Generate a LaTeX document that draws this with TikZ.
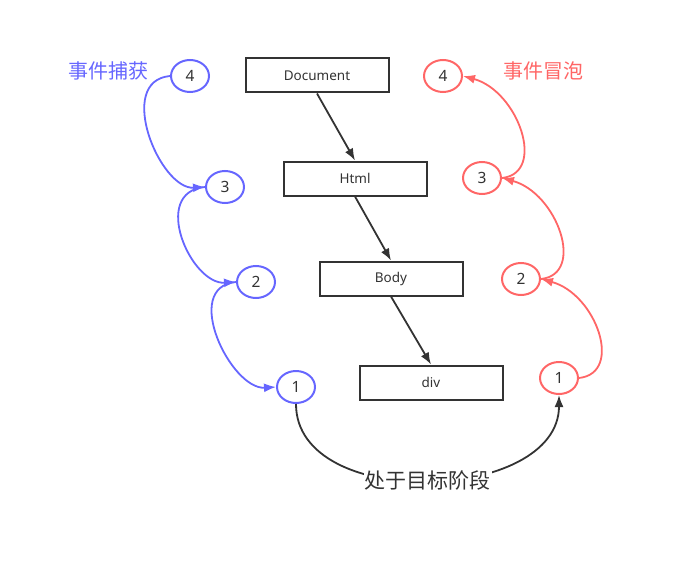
\documentclass[tikz,border=0pt]{standalone}
\usepackage{fontspec}
\setmainfont{Noto Sans}
\newfontfamily\cjk{Noto Sans CJK SC}
\usetikzlibrary{shapes.geometric,arrows.meta}
\definecolor{capblue}{HTML}{6666FF}
\definecolor{bubred}{HTML}{FF6666}
\definecolor{dark}{HTML}{333333}

\begin{document}
\begin{tikzpicture}[x=1pt, y=-1pt,
  box/.style={draw=dark, line width=2pt, minimum width=143pt, minimum height=34pt,
    text=dark, font=\fontsize{13.5}{15}\selectfont},
  num/.style={ellipse, line width=2pt, minimum width=38pt, minimum height=32pt,
    inner sep=0pt, text=dark, font=\fontsize{15.5}{17}\selectfont},
  bcirc/.style={num, draw=capblue},
  rcirc/.style={num, draw=bubred},
  tip/.style={-{Latex[length=12pt,width=9pt]}},
  link/.style={tip, draw=dark, line width=1.8pt},
  bline/.style={tip, draw=capblue, line width=1.8pt},
  rline/.style={tip, draw=bubred, line width=1.8pt},
  title/.style={font=\cjk\fontsize{20}{23}\selectfont}]
\useasboundingbox (0,0) rectangle (684,572);
% DOM tree
\node[box] (doc) at (317,75.5) {Document};
\node[box] (html) at (355,178.5) {Html};
\node[box] (body) at (391,278.5) {Body};
\node[box] (div) at (431,382.5) {div};
\draw[link] (doc.south) -- (html.north);
\draw[link] (html.south) -- (body.north);
\draw[link] (body.south) -- (div.north);
% capture phase
\node[title, text=capblue] (captitle) at (108,71) {事件捕获};
\foreach \n/\x/\y in {4/190/76, 3/225/187, 2/256/282, 1/296/387} {
    \node[bcirc] (b\n) at (\x,\y) {\n};
}
\foreach \a/\b in {4/3, 3/2, 2/1} {
    \draw[bline] (b\a.west) .. controls +(-55,5) and +(-45,3) .. (b\b.west);
}
% bubble phase
\node[title, text=bubred] (bubtitle) at (543,71) {事件冒泡};
\foreach \n/\x/\y in {4/443/76, 3/482/178, 2/521/279, 1/559/378} {
    \node[rcirc] (r\n) at (\x,\y) {\n};
}
\foreach \a/\b in {1/2, 2/3, 3/4} {
    \draw[rline] (r\a.east) .. controls +(45,-5) and +(55,15) .. (r\b.east);
}
% target phase
\draw[link] (b1.south) to[out=-90, in=-90, looseness=1.05]
    node[pos=0.5, fill=white, inner sep=1pt, title, text=dark, font=\cjk\fontsize{21}{24}\selectfont] (stage) {处于目标阶段} (r1.south);
\end{tikzpicture}
\end{document}
